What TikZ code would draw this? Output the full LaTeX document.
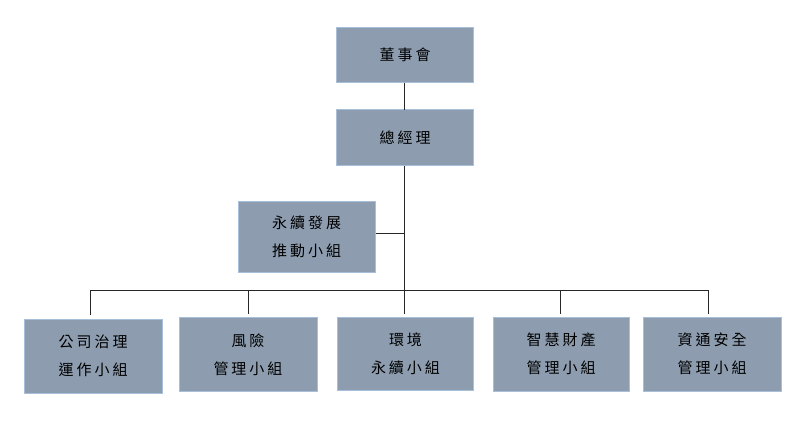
\documentclass[tikz,border=0pt]{standalone}
\usepackage{fontspec}
\newfontfamily\cjk[LetterSpace=20]{Noto Sans CJK TC}
\definecolor{boxfill}{HTML}{8D9DAF}
\definecolor{boxline}{HTML}{A8BFDA}
\begin{document}
\begin{tikzpicture}[x=1pt,y=-1pt,
  orgbox/.style={draw=boxline, fill=boxfill, line width=1pt, inner sep=0pt,
    minimum width=137pt, align=center, font=\cjk\fontsize{15}{28}\selectfont, text=black},
  link/.style={draw=black!85, line width=1pt}]
\useasboundingbox (0,0) rectangle (800,421);
\node[orgbox, minimum height=55pt] (bod) at (405,54.5) {董事會};
\node[orgbox, minimum height=56pt] (gm) at (405,137.5) {總經理};
\node[orgbox, minimum height=71pt] (sus) at (306.5,236.5) {永續發展\\推動小組};
\node[orgbox, minimum height=74pt, minimum width=138pt] (b1) at (93,356) {公司治理\\運作小組};
\node[orgbox, minimum height=74pt, minimum width=138pt] (b2) at (248,354.5) {風險\\管理小組};
\node[orgbox, minimum height=73pt, minimum width=136pt] (b3) at (405.5,354) {環境\\永續小組};
\node[orgbox, minimum height=74pt, minimum width=136pt] (b4) at (561,354) {智慧財產\\管理小組};
\node[orgbox, minimum height=74pt, minimum width=138pt] (b5) at (712,354) {資通安全\\管理小組};
\coordinate (busL) at (90,290);
\coordinate (busR) at (708,290);
\coordinate (busM) at (404,290);
\draw[link] (404,82.5) -- (404,109.5);
\draw[link] ([xshift=-1pt]gm.south) -- (busM);
\draw[link] (sus.east |- 0,233) -- (404,233);
\draw[link] (90,315) -- (busL) -- (busR) -- (708,314);
\draw[link] (248,290) -- (248,314);
\draw[link] (404,290) -- (404,314);
\draw[link] (560,290) -- (560,314);
\end{tikzpicture}
\end{document}
